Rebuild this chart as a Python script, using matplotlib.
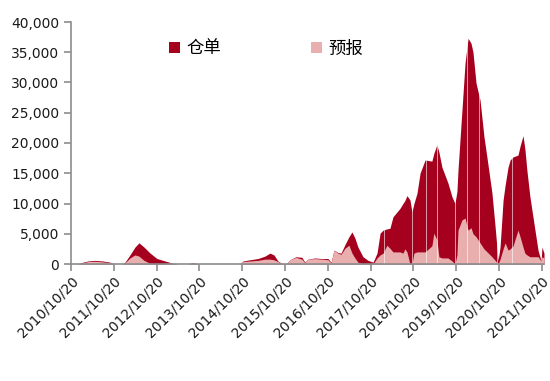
import matplotlib
matplotlib.use("Agg")
import matplotlib.pyplot as plt
from matplotlib.patches import Patch
import matplotlib.ticker as mticker
import pandas as pd

plt.rcParams['font.family'] = ['DejaVu Sans', 'Noto Sans CJK SC']

dates = [
    "2010-10-20", "2010-12-19", "2011-01-22", "2011-03-13", "2011-05-12", "2011-07-19",
    "2011-09-18", "2011-10-22", "2011-12-29", "2012-01-24", "2012-03-06", "2012-04-18",
    "2012-05-22", "2012-07-04", "2012-08-25", "2012-10-23", "2012-12-31", "2013-03-01",
    "2013-04-20", "2013-07-14", "2013-08-26", "2013-10-08", "2014-10-02", "2014-10-27",
    "2014-12-26", "2015-03-03", "2015-05-02", "2015-06-14", "2015-07-18", "2015-08-21",
    "2015-09-25", "2015-10-29", "2015-12-02", "2016-01-22", "2016-03-13", "2016-04-07",
    "2016-05-03", "2016-07-02", "2016-08-31", "2016-10-22", "2016-11-17", "2016-12-12",
    "2017-01-15", "2017-02-10", "2017-03-15", "2017-04-18", "2017-05-14", "2017-06-08",
    "2017-07-04", "2017-08-16", "2017-09-28", "2017-11-10", "2017-12-14", "2018-01-09",
    "2018-02-04", "2018-03-08", "2018-04-03", "2018-04-29", "2018-06-28", "2018-07-23",
    "2018-08-09", "2018-08-26", "2018-09-21", "2018-10-08", "2018-10-25", "2018-11-20",
    "2018-12-16", "2019-01-28", "2019-03-27", "2019-04-13", "2019-05-09", "2019-05-26",
    "2019-06-21", "2019-08-11", "2019-09-15", "2019-10-10", "2019-10-27", "2019-11-05",
    "2019-12-09", "2020-01-04", "2020-01-30", "2020-02-24", "2020-03-12", "2020-04-07",
    "2020-05-11", "2020-06-14", "2020-07-10", "2020-08-21", "2020-09-17", "2020-10-12",
    "2020-10-29", "2020-11-24", "2020-12-11", "2021-01-05", "2021-01-23", "2021-02-17",
    "2021-03-31", "2021-04-18", "2021-05-13", "2021-05-29", "2021-06-15", "2021-07-11",
    "2021-08-23", "2021-09-18", "2021-10-14", "2021-10-22", "2021-11-08",
]

warrant = [
    0, 0, 250, 500, 600, 500,
    300, 0, 0, 300, 1500, 2800,
    3500, 2800, 1800, 900, 500, 150,
    0, 0, 250, 0, 0, 500,
    700, 900, 1300, 1800, 1500, 500,
    100, 0, 700, 1200, 1100, 300,
    800, 1000, 900, 900, 300, 2300,
    1900, 1800, 3200, 4500, 5300, 4300,
    2800, 1200, 600, 300, 1800, 5100,
    5600, 5800, 5900, 7800, 9200, 10000,
    10500, 11300, 10600, 8600, 10000, 11700,
    15000, 17200, 17000, 18300, 19700, 18500,
    16000, 13400, 11100, 10000, 12000, 15500,
    25500, 33200, 37300, 36500, 35000, 29900,
    27100, 21000, 17500, 11700, 6100, 600,
    2800, 10600, 13000, 16000, 17200, 17700,
    18000, 19500, 21200, 19000, 15500, 11100,
    5600, 2300, 500, 2800, 1800,
]

forecast = [
    0, 0, 150, 400, 450, 350,
    200, 0, 0, 200, 1000, 1500,
    1300, 600, 100, 0, 0, 0,
    0, 0, 150, 0, 0, 400,
    500, 600, 800, 800, 700, 400,
    100, 0, 700, 1100, 800, 200,
    800, 900, 800, 700, 200, 2300,
    1800, 1600, 2600, 3100, 1800, 1000,
    300, 0, 0, 0, 1000, 1500,
    1800, 3100, 2600, 2000, 2000, 1800,
    2500, 2000, 0, 0, 1800, 2000,
    2000, 2000, 3000, 5100, 4000, 1200,
    1000, 1000, 500, 0, 1500, 5600,
    7300, 7600, 5600, 6000, 5000, 4500,
    3500, 2500, 2000, 1200, 600, 0,
    800, 2500, 3500, 2300, 2500, 3000,
    5600, 4500, 2800, 1800, 1500, 1200,
    1200, 1200, 500, 1200, 1000,
]

gap_dates = ["2018-02-12", "2018-10-08", "2019-02-05", "2019-05-09", "2019-10-10",
             "2020-01-25", "2020-04-28", "2020-10-03", "2021-02-09"]

tick_dates = ["2010-10-20", "2011-10-20", "2012-10-20", "2013-10-20", "2014-10-20",
              "2015-10-20", "2016-10-20", "2017-10-20", "2018-10-20", "2019-10-20",
              "2020-10-20", "2021-10-20"]
tick_labels = ["2010/10/20", "2011/10/20", "2012/10/20", "2013/10/20", "2014/10/20",
               "2015/10/20", "2016/10/20", "2017/10/20", "2018/10/20", "2019/10/20",
               "2020/10/20", "2021/10/20"]

series_names = ["仓单", "预报"]
dark = "#A6001F"
pink = "#E9AEAE"

x = pd.to_datetime(dates)

fig = plt.figure(figsize=(5.5, 3.81), dpi=100)
ax = fig.add_axes([71 / 550, 1 - 264 / 381, (544 - 71) / 550, (264 - 22) / 381])

ax.fill_between(x, 0, warrant, color=dark, linewidth=0, zorder=2)
ax.fill_between(x, 0, forecast, color=pink, linewidth=0, zorder=3)
for g in pd.to_datetime(gap_dates):
    ax.axvline(g, color="white", linewidth=0.5, alpha=0.85, zorder=4)

ax.set_ylim(0, 40000)
ax.set_yticks(range(0, 40001, 5000))
ax.yaxis.set_major_formatter(mticker.FuncFormatter(lambda v, p: f"{int(v):,}"))
ax.set_xlim(pd.Timestamp("2010-10-20"), pd.Timestamp("2021-11-08"))
ax.set_xticks(pd.to_datetime(tick_dates))
ax.set_xticklabels(tick_labels, rotation=45, ha="right", rotation_mode="anchor")

for s in ["top", "right"]:
    ax.spines[s].set_visible(False)
for s in ["left", "bottom"]:
    ax.spines[s].set_color("#8c8c8c")
    ax.spines[s].set_linewidth(1.2)
    ax.spines[s].set_zorder(5)
ax.tick_params(axis="y", colors="#8c8c8c", length=5, width=1.2, labelsize=10,
               labelcolor="#1a1a1a", pad=3.5)
ax.tick_params(axis="x", colors="#8c8c8c", length=5, width=1.2, labelsize=10,
               labelcolor="#1a1a1a", pad=2)

handles = [Patch(facecolor=dark, edgecolor="none"), Patch(facecolor=pink, edgecolor="none")]
fig.legend(handles, series_names, loc="center", bbox_to_anchor=(266 / 550, 1 - 48.5 / 381),
           ncol=2, frameon=False, handlelength=0.63, handleheight=0.63, handletextpad=0.35,
           columnspacing=5.2, borderpad=0,
           prop={"family": ["Noto Sans CJK SC", "DejaVu Sans"], "size": 12.5})

fig.savefig("out.png", dpi=100)
